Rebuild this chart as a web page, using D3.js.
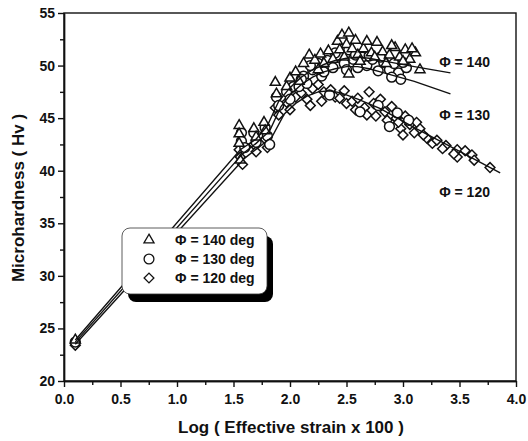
<!DOCTYPE html>
<html>
<head>
<meta charset="utf-8">
<script src="https://cdn.jsdelivr.net/npm/d3@7"></script>
<style>
  body { margin: 0; background: #fff; }
  svg { display: block; }
  text { font-family: "Liberation Sans", Arial, sans-serif; font-weight: bold; fill: #111; }
  .axis path, .axis line { stroke: #111; stroke-width: 1.4; }
  .axis text { font-size: 14px; }
</style>
</head>
<body>
<div id="chart"></div>
<script>
// tick values
var xTicks = [0.0, 0.5, 1.0, 1.5, 2.0, 2.5, 3.0, 3.5, 4.0];
var xMinor = [0.25, 0.75, 1.25, 1.75, 2.25, 2.75, 3.25, 3.75];
var yTicks = [20, 25, 30, 35, 40, 45, 50, 55];
var yMinor = [22.5, 27.5, 32.5, 37.5, 42.5, 47.5, 52.5];

// Phi = 140 deg (triangles)
var pts140 = [[0.1,23.9],
  [1.55,44.3],[1.55,43.5],[1.55,42.6],[1.56,41.0],[1.68,44.0],[1.7,43.2],[1.77,44.6],[1.78,43.8],
  [1.87,48.4],[1.88,47.3],[1.97,48.0],[2.0,48.8],[2.05,49.4],[2.08,48.5],[2.12,50.2],[2.17,51.0],
  [2.22,50.5],[2.27,51.1],[2.3,50.2],[2.34,51.4],[2.38,50.6],[2.42,52.3],[2.46,52.9],[2.5,52.0],
  [2.52,53.1],[2.52,49.2],[2.55,51.6],[2.6,51.0],[2.65,51.6],[2.68,52.3],[2.72,51.2],[2.77,52.2],
  [2.82,51.3],[2.88,51.0],[2.93,51.7],[2.97,50.8],[3.02,51.5],[3.06,50.6],[3.11,51.2],[3.15,49.6],
  [2.44,51.5],[2.58,52.4],[2.62,50.4],[2.75,50.8],[2.85,50.2],[3.0,50.4],[3.08,51.6],[2.25,49.6],
  [2.48,50.8],[2.9,51.9]];
// Phi = 130 deg (circles)
var pts130 = [[0.1,23.7],
  [1.57,43.6],[1.57,42.8],[1.6,42.2],[1.68,43.6],[1.7,42.7],[1.78,44.1],[1.8,43.3],[1.82,42.5],
  [1.88,47.0],[1.9,46.2],[1.97,47.5],[2.0,46.8],[2.03,48.0],[2.08,48.0],[2.12,49.0],[2.15,48.3],
  [2.2,49.6],[2.25,50.2],[2.28,49.0],[2.33,50.5],[2.38,49.8],[2.43,50.9],[2.48,50.2],[2.52,51.5],
  [2.56,50.6],[2.6,49.8],[2.64,50.8],[2.68,50.0],[2.73,50.6],[2.78,49.5],[2.83,50.3],[2.88,49.6],
  [2.92,50.2],[2.96,49.3],[2.98,48.7],[3.03,49.8],
  [2.1,48.7],[2.18,50.0],[2.3,49.4],[2.4,51.2],[2.5,49.6],[2.58,51.0],[2.7,50.9],[2.8,50.8],
  [2.9,48.9],[3.0,50.3],[2.35,47.2],[2.62,45.6],[2.78,46.2],[2.95,45.5],[3.05,44.8],[2.88,44.2]];
// Phi = 120 deg (diamonds)
var pts120 = [[0.1,23.4],
  [1.55,42.0],[1.56,41.3],[1.58,40.6],[1.68,42.5],[1.7,41.8],[1.78,43.0],[1.8,42.2],[1.87,46.0],
  [1.9,45.3],[1.97,46.5],[2.0,45.8],[2.05,47.0],[2.1,47.4],[2.15,46.8],[2.2,47.8],[2.25,48.2],
  [2.3,47.5],[2.36,47.7],[2.4,47.0],[2.44,46.9],[2.5,46.4],[2.55,46.6],[2.6,46.9],[2.66,46.0],
  [2.7,47.5],[2.74,46.4],[2.8,46.8],[2.84,45.6],[2.9,46.1],[2.94,45.0],[2.98,44.0],[3.02,45.2],
  [3.06,44.4],[3.1,43.6],[3.15,44.0],[3.21,43.1],[3.26,42.6],[3.3,42.9],[3.38,42.4],[3.48,42.0],
  [3.48,41.3],[3.61,41.5],[3.63,41.0],[3.77,40.3],
  [2.18,46.2],[2.28,46.6],[2.48,47.6],[2.58,45.8],[2.68,45.3],[2.76,45.2],[2.86,44.8],[2.96,44.6],
  [3.0,43.4],[3.12,44.6],[3.18,43.4],[3.35,42.1],[3.45,41.6],[3.55,41.9]];

// fitted curves
var fit140 = [[0.1,23.9],[1.56,42.0],[1.7,43.0],[1.8,44.3],[1.9,46.6],[2.0,47.9],[2.1,48.9],[2.2,49.6],
  [2.3,50.1],[2.4,50.5],[2.5,50.7],[2.6,50.8],[2.7,50.7],[2.8,50.5],[3.1,49.9],[3.42,49.3]];
var fit130 = [[0.1,23.7],[1.58,41.6],[1.7,42.6],[1.82,43.8],[1.92,46.1],[2.0,47.2],[2.1,48.2],[2.2,48.9],
  [2.3,49.4],[2.4,49.7],[2.5,49.9],[2.6,49.9],[2.7,49.7],[2.8,49.4],[3.1,48.5],[3.42,47.3]];
var fit120 = [[0.1,23.5],[1.6,41.2],[1.72,42.2],[1.84,43.2],[1.95,45.4],[2.05,46.4],[2.15,47.1],
  [2.25,47.5],[2.35,47.6],[2.45,47.4],[2.6,46.8],[2.8,45.9],[3.1,44.1],[3.4,42.4],[3.86,39.8]];

var labels = ["\u03A6 = 140", "\u03A6 = 130", "\u03A6 = 120"];
var legendText = ["\u03A6 = 140 deg", "\u03A6 = 130 deg", "\u03A6 = 120 deg"];

var W = 528, H = 441;
var margin = {top: 13, right: 12, bottom: 60, left: 64};
var width = W - margin.left - margin.right,
    height = H - margin.top - margin.bottom;

var svg = d3.select("#chart").append("svg")
    .attr("width", W)
    .attr("height", H);

var g = svg.append("g")
    .attr("transform", "translate(" + margin.left + "," + margin.top + ")");

var x = d3.scaleLinear().domain([0, 4]).range([0, width]);
var y = d3.scaleLinear().domain([20, 55]).range([height, 0]);

// axes
g.append("g")
    .attr("class", "x axis")
    .attr("transform", "translate(0," + height + ")")
    .call(d3.axisBottom(x).tickValues(xTicks).tickFormat(d3.format(".1f")).tickSize(6).tickPadding(7).tickSizeOuter(0));
g.append("g")
    .attr("class", "x axis")
    .attr("transform", "translate(0," + height + ")")
    .call(d3.axisBottom(x).tickValues(xMinor).tickFormat("").tickSize(4).tickSizeOuter(0));

g.append("g")
    .attr("class", "y axis")
    .call(d3.axisLeft(y).tickValues(yTicks).tickFormat(d3.format("d")).tickSize(6).tickPadding(3).tickSizeOuter(0));
g.append("g")
    .attr("class", "y axis")
    .call(d3.axisLeft(y).tickValues(yMinor).tickFormat("").tickSize(4).tickSizeOuter(0));

// frame
g.append("rect")
    .attr("width", width)
    .attr("height", height)
    .attr("fill", "none")
    .attr("stroke", "#111")
    .attr("stroke-width", 1.4);

// markers
var tri = d3.symbol().type(d3.symbolTriangle).size(44)();
var circ = d3.symbol().type(d3.symbolCircle).size(76)();
var diam = d3.symbol().type(d3.symbolSquare).size(48)();

function drawPoints(data, path, rot) {
    g.append("g").selectAll("path")
        .data(data)
        .enter().append("path")
        .attr("d", path)
        .attr("transform", function(d) {
            return "translate(" + x(d[0]) + "," + y(d[1]) + ")" + (rot ? " rotate(45)" : "");
        })
        .attr("fill", "#fff")
        .attr("stroke", "#111")
        .attr("stroke-width", 1.5);
}

drawPoints(pts120, diam, true);
drawPoints(pts130, circ, false);
drawPoints(pts140, tri, false);

// lines
var line = d3.line()
    .x(function(d) { return x(d[0]); })
    .y(function(d) { return y(d[1]); });

[fit140, fit130, fit120].forEach(function(f) {
    g.append("path")
        .datum(f)
        .attr("d", line)
        .attr("fill", "none")
        .attr("stroke", "#111")
        .attr("stroke-width", 1.4);
});

// curve labels
var labelPos = [[3.32, 50.3], [3.32, 45.3], [3.32, 38.0]];
labels.forEach(function(t, i) {
    g.append("text")
        .attr("x", x(labelPos[i][0]))
        .attr("y", y(labelPos[i][1]))
        .attr("dy", "0.35em")
        .style("font-size", "14px")
        .text(t);
});

// legend
var lg = svg.append("g").attr("transform", "translate(122,228)");
lg.append("rect")
    .attr("x", 6).attr("y", 8)
    .attr("width", 145).attr("height", 66)
    .attr("rx", 8)
    .attr("fill", "#000");
lg.append("rect")
    .attr("width", 145).attr("height", 66)
    .attr("rx", 8)
    .attr("fill", "#fff")
    .attr("stroke", "#333")
    .attr("stroke-width", 0.8);

var legendSyms = [[tri, false], [circ, false], [diam, true]];
legendText.forEach(function(t, i) {
    var row = lg.append("g").attr("transform", "translate(0," + (12 + i * 19) + ")");
    row.append("path")
        .attr("d", legendSyms[i][0])
        .attr("transform", "translate(27,0)" + (legendSyms[i][1] ? " rotate(45)" : ""))
        .attr("fill", "#fff")
        .attr("stroke", "#111")
        .attr("stroke-width", 1.3);
    row.append("text")
        .attr("x", 53)
        .attr("dy", "0.35em")
        .style("font-size", "14px")
        .text(t);
});

// axis titles
svg.append("text")
    .attr("x", margin.left + width / 2 + 1)
    .attr("y", 433)
    .attr("text-anchor", "middle")
    .style("font-size", "17px")
    .text("Log ( Effective strain x 100 )");

svg.append("text")
    .attr("transform", "translate(24," + 198 + ") rotate(-90)")
    .attr("text-anchor", "middle")
    .style("font-size", "17px")
    .text("Microhardness ( Hv )");
</script>
</body>
</html>
